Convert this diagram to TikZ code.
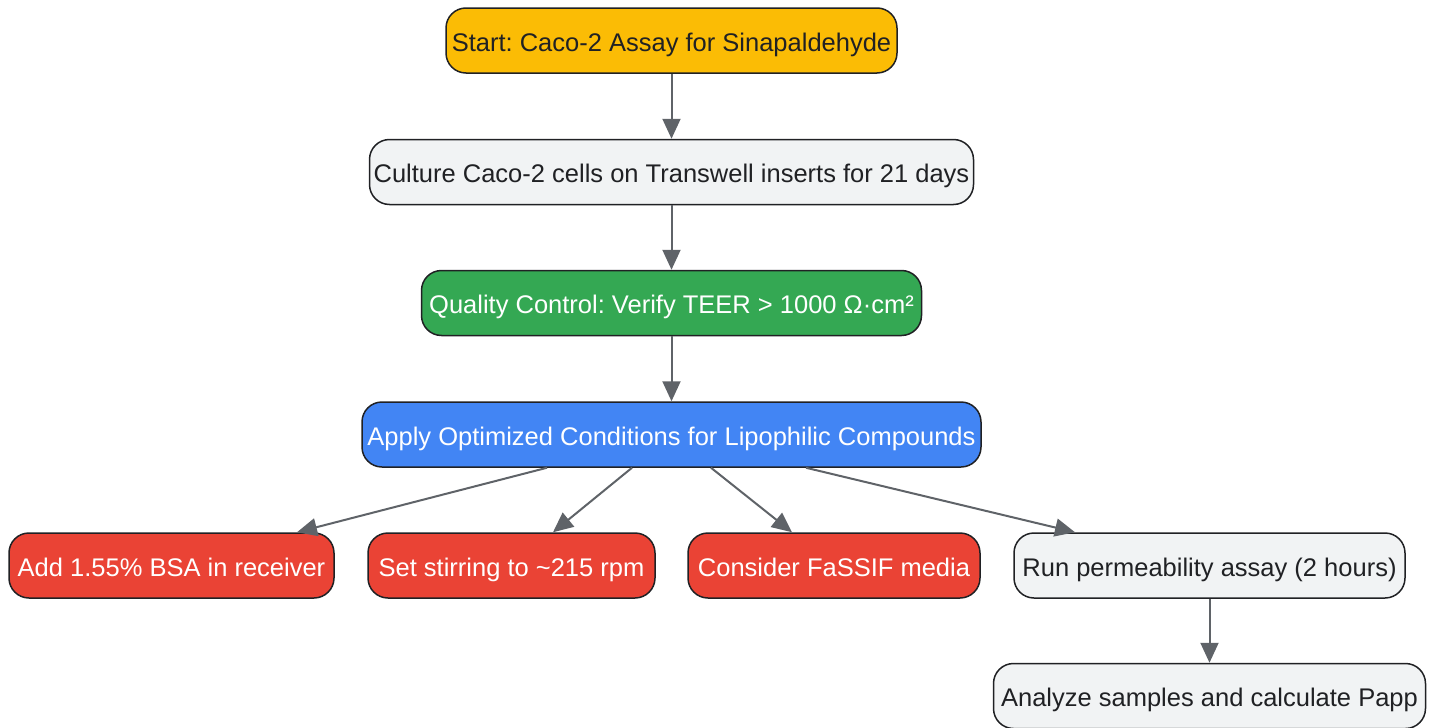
\documentclass[tikz,border=0pt]{standalone}
\usepackage{fontspec}
\setmainfont{Liberation Sans}
\frenchspacing
\usetikzlibrary{arrows.meta}
\definecolor{cyel}{HTML}{FBBC05}
\definecolor{cgray}{HTML}{F1F3F4}
\definecolor{cgreen}{HTML}{34A853}
\definecolor{cblue}{HTML}{4285F4}
\definecolor{cred}{HTML}{EA4335}
\definecolor{ctext}{HTML}{202124}
\definecolor{cline}{HTML}{5F6368}
\begin{document}
\begin{tikzpicture}[x=0.5pt,y=-0.5pt,
  box/.style={draw=ctext, line width=0.75pt, rounded corners=10pt, minimum height=32.5pt, inner sep=0pt, text height=11pt, text depth=0.5pt, font=\fontsize{12.75}{14}\selectfont, text=ctext},
  lightbox/.style={box, fill=cgray},
  yelbox/.style={box, fill=cyel},
  greenbox/.style={box, fill=cgreen, text=white},
  bluebox/.style={box, fill=cblue, text=white},
  redbox/.style={box, fill=cred, text=white},
  conn/.style={draw=cline, line width=1pt, -{Triangle[length=10pt,width=9pt]}, fill=cline}]
\useasboundingbox (0,0) rectangle (1436,728);
\node[yelbox, minimum width=225.5pt] (start) at (671.5,40.5) {Start: Caco-2 Assay for Sinapaldehyde};
\node[lightbox, minimum width=302pt] (culture) at (671.5,172) {Culture Caco-2 cells on Transwell inserts for 21 days};
\node[greenbox, minimum width=250pt] (qc) at (671.5,303) {Quality Control: Verify TEER > 1000 Ω·cm²};
\node[bluebox, minimum width=309.5pt] (apply) at (671.5,434.5) {Apply Optimized Conditions for Lipophilic Compounds};
\node[redbox, minimum width=162.5pt] (bsa) at (171.5,565.5) {Add 1.55\% BSA in receiver};
\node[redbox, minimum width=143.5pt] (stir) at (511.5,565.5) {Set stirring to \textasciitilde215 rpm};
\node[redbox, minimum width=146pt] (fassif) at (834,565.5) {Consider FaSSIF media};
\node[lightbox, minimum width=195.5pt] (run) at (1209.5,565.5) {Run permeability assay (2 hours)};
\node[lightbox, minimum width=216pt] (analyze) at (1209.5,696) {Analyze samples and calculate Papp};
\draw[conn] (start) -- (culture);
\draw[conn] (culture) -- (qc);
\draw[conn] (qc) -- (apply);
\draw[conn] ([xshift=-62.25pt]apply.south) -- ([xshift=62.75pt]bsa.north);
\draw[conn] ([xshift=-19.75pt]apply.south) -- ([xshift=20.75pt]stir.north);
\draw[conn] ([xshift=19.75pt]apply.south) -- ([xshift=-21pt]fassif.north);
\draw[conn] ([xshift=67.25pt]apply.south) -- ([xshift=-67.25pt]run.north);
\draw[conn] (run) -- (analyze);
\end{tikzpicture}
\end{document}
